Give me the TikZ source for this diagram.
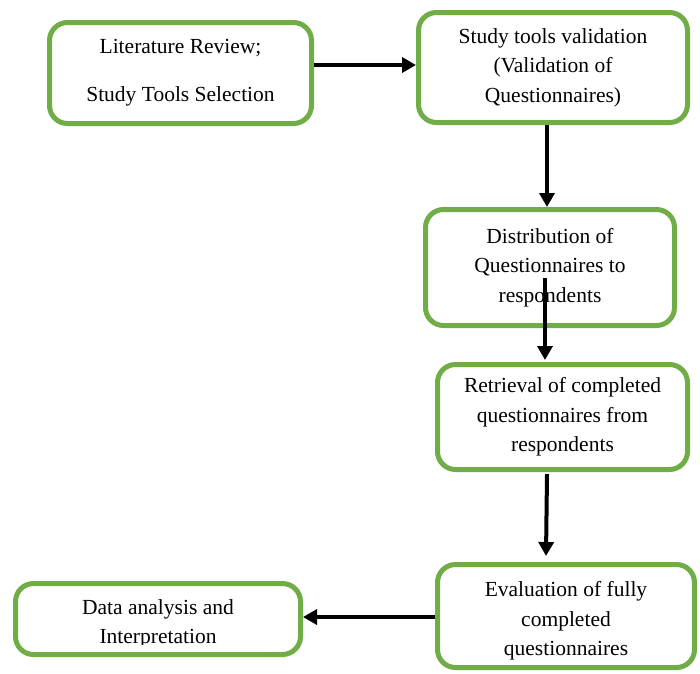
\documentclass[tikz,border=0pt]{standalone}
\usepackage{fontspec}
\setmainfont{Liberation Serif}
\usetikzlibrary{arrows.meta}
\definecolor{boxgreen}{HTML}{70AD47}
\tikzset{
  box/.style={draw=boxgreen, line width=5pt, rounded corners=18pt, fill=white,
    inner sep=0pt, align=center, font=\fontsize{21.5}{29.5}\selectfont},
  arr/.style={line width=4pt, -{Triangle[length=14pt,width=15pt]}},
  lbl/.style={inner sep=0pt, align=center, font=\fontsize{21.5}{29.5}\selectfont}
}
\begin{document}
\begin{tikzpicture}[x=1pt,y=-1pt]
\useasboundingbox (0,0) rectangle (700,673);
\fill[white] (0,0) rectangle (700,673);
% boxes
\node[box, minimum width=262pt, minimum height=101pt] (b1) at (180.5,73)
  {Literature Review;\\[18.5pt]Study Tools Selection};
\node[box, minimum width=269pt, minimum height=110pt] (b2) at (553,67.5)
  {Study tools validation\\(Validation of\\Questionnaires)};
\node[box, minimum width=249pt, minimum height=116pt] (b3) at (550,267.5)
  {Distribution of\\Questionnaires to\\respondents};
\node[box, minimum width=250pt, minimum height=105pt] (b4) at (562.5,417)
  {Retrieval of completed\\questionnaires from\\respondents};
\node[box, minimum width=257pt, minimum height=103pt] (b5) at (566,616)
  {\\[-4pt]Evaluation of fully\\completed\\questionnaires};
\node[box, minimum width=285pt, minimum height=71pt] (b6) at (158,619) {};
\begin{scope}
  \clip (16,584) rectangle (300,644);
  \node[lbl] (t6) at (158,624) {Data analysis and\\Interpretation};
\end{scope}
% connectors
\coordinate (s1) at (314,65);
\draw[arr] (s1) -- (s1 -| b2.west);
\coordinate (s2) at (547,125);
\draw[arr] (s2) -- (s2 |- b3.north);
\coordinate (s3) at (545,278);
\coordinate (e3) at (545,360);
\draw[arr] (s3) -- (e3);
\coordinate (s4) at (547,474);
\coordinate (e4) at (546,556);
\draw[arr] (s4) -- (e4);
\coordinate (s5) at (435,617);
\draw[arr] (s5) -- (s5 -| b6.east);
\end{tikzpicture}
\end{document}
